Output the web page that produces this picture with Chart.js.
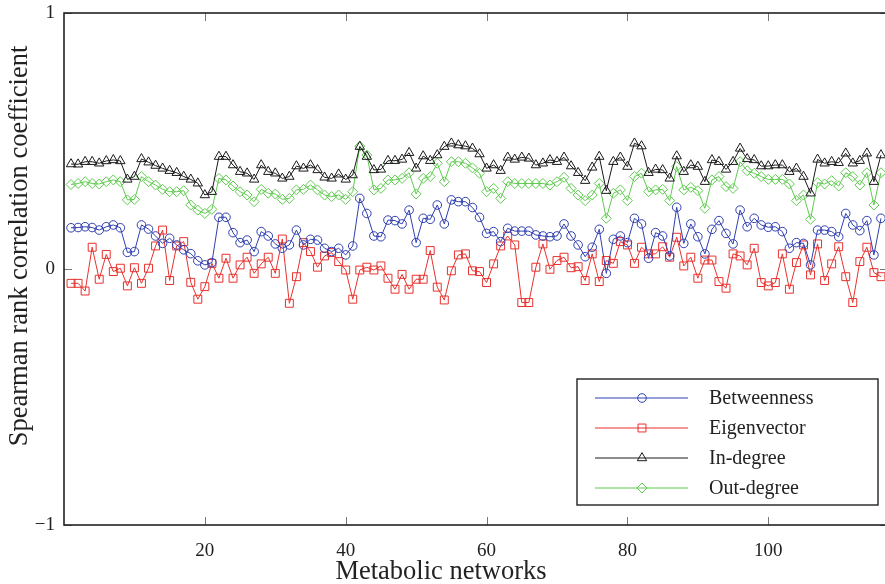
<!DOCTYPE html>
<html>
<head>
<meta charset="utf-8">
<script src="https://cdn.jsdelivr.net/npm/chart.js@4/dist/chart.umd.min.js"></script>
<style>
  html, body { margin: 0; padding: 0; background: #fff; overflow: hidden; }
  #wrap { width: 890px; height: 584px; }
  canvas { display: block; }
</style>
</head>
<body>
<div id="wrap"><canvas id="corrChart" width="890" height="584"></canvas></div>
<script>
// Spearman rank correlation per metabolic network (networks 1..116)
const betweenness = [
  0.161, 0.162, 0.165, 0.162, 0.152, 0.165, 0.172, 0.161, 0.065, 0.068,
  0.172, 0.156, 0.129, 0.100, 0.120, 0.094, 0.075, 0.060, 0.032, 0.016,
  0.025, 0.202, 0.202, 0.142, 0.103, 0.113, 0.068, 0.146, 0.129, 0.098,
  0.081, 0.094, 0.152, 0.094, 0.116, 0.113, 0.081, 0.068, 0.081, 0.055,
  0.090, 0.276, 0.217, 0.129, 0.126, 0.191, 0.189, 0.176, 0.230, 0.103,
  0.198, 0.194, 0.250, 0.176, 0.270, 0.263, 0.263, 0.240, 0.202, 0.139,
  0.146, 0.107, 0.159, 0.148, 0.148, 0.148, 0.133, 0.129, 0.126, 0.129,
  0.176, 0.129, 0.094, 0.048, 0.085, 0.155, -0.017, 0.116, 0.129, 0.103,
  0.198, 0.176, 0.042, 0.142, 0.129, 0.051, 0.241, 0.100, 0.176, 0.126,
  0.059, 0.155, 0.189, 0.139, 0.098, 0.230, 0.165, 0.198, 0.172, 0.163,
  0.165, 0.146, 0.081, 0.103, 0.100, 0.016, 0.152, 0.152, 0.146, 0.126,
  0.217, 0.172, 0.150, 0.189, 0.055, 0.198
];
const eigenvector = [
  -0.056, -0.056, -0.086, 0.085, -0.040, 0.057, -0.010, 0.003, -0.066, 0.005,
  -0.056, 0.003, 0.090, 0.152, -0.045, 0.090, 0.107, -0.052, -0.118, -0.069,
  0.022, -0.036, 0.042, -0.036, 0.016, 0.046, -0.017, 0.020, 0.046, -0.017,
  0.117, -0.134, -0.030, 0.103, 0.068, 0.007, 0.051, 0.064, 0.029, -0.004,
  -0.118, -0.004, 0.007, -0.004, 0.012, -0.036, -0.079, -0.021, -0.079, -0.040,
  -0.040, 0.072, -0.071, -0.121, -0.007, 0.055, 0.059, -0.007, -0.010, -0.053,
  0.020, 0.090, 0.129, 0.094, -0.131, -0.131, 0.007, 0.098, -0.001, 0.033,
  0.046, 0.005, 0.009, -0.045, 0.059, -0.049, 0.033, 0.022, 0.107, 0.094,
  0.022, 0.085, 0.059, 0.059, 0.087, 0.046, 0.124, 0.012, 0.046, -0.036,
  0.035, 0.035, -0.049, -0.075, 0.059, 0.051, 0.016, 0.081, -0.053, -0.066,
  -0.053, 0.059, -0.079, 0.025, 0.094, -0.023, 0.098, -0.045, 0.020, 0.087,
  -0.030, -0.131, 0.029, 0.085, -0.014, -0.030
];
const inDegree = [
  0.410, 0.409, 0.419, 0.419, 0.413, 0.422, 0.426, 0.422, 0.350, 0.361,
  0.430, 0.417, 0.404, 0.393, 0.384, 0.376, 0.361, 0.350, 0.335, 0.289,
  0.302, 0.439, 0.439, 0.406, 0.380, 0.374, 0.350, 0.406, 0.380, 0.374,
  0.354, 0.361, 0.402, 0.393, 0.406, 0.387, 0.358, 0.354, 0.370, 0.350,
  0.367, 0.478, 0.439, 0.387, 0.389, 0.423, 0.423, 0.428, 0.454, 0.393,
  0.441, 0.423, 0.445, 0.478, 0.491, 0.484, 0.480, 0.471, 0.449, 0.393,
  0.406, 0.384, 0.436, 0.428, 0.436, 0.432, 0.406, 0.413, 0.426, 0.419,
  0.436, 0.402, 0.376, 0.345, 0.397, 0.439, 0.306, 0.419, 0.436, 0.400,
  0.491, 0.480, 0.376, 0.389, 0.387, 0.354, 0.441, 0.380, 0.406, 0.400,
  0.341, 0.426, 0.419, 0.389, 0.419, 0.471, 0.430, 0.426, 0.402, 0.402,
  0.406, 0.406, 0.380, 0.393, 0.361, 0.296, 0.428, 0.413, 0.419, 0.415,
  0.452, 0.413, 0.423, 0.452, 0.341, 0.445
];
const outDegree = [
  0.330, 0.334, 0.341, 0.334, 0.332, 0.341, 0.348, 0.341, 0.270, 0.272,
  0.361, 0.341, 0.328, 0.311, 0.302, 0.302, 0.306, 0.250, 0.230, 0.217,
  0.233, 0.354, 0.348, 0.324, 0.302, 0.289, 0.263, 0.311, 0.296, 0.293,
  0.272, 0.276, 0.309, 0.311, 0.328, 0.309, 0.289, 0.283, 0.289, 0.272,
  0.302, 0.480, 0.445, 0.309, 0.315, 0.348, 0.348, 0.354, 0.376, 0.293,
  0.354, 0.361, 0.413, 0.341, 0.419, 0.419, 0.413, 0.395, 0.374, 0.302,
  0.315, 0.276, 0.341, 0.334, 0.334, 0.334, 0.334, 0.334, 0.328, 0.341,
  0.358, 0.315, 0.289, 0.267, 0.289, 0.334, 0.198, 0.296, 0.309, 0.267,
  0.361, 0.374, 0.302, 0.309, 0.311, 0.267, 0.400, 0.309, 0.319, 0.306,
  0.237, 0.348, 0.361, 0.322, 0.315, 0.419, 0.384, 0.374, 0.361, 0.350,
  0.350, 0.350, 0.332, 0.267, 0.289, 0.194, 0.337, 0.332, 0.345, 0.324,
  0.376, 0.361, 0.328, 0.376, 0.250, 0.376
];
const xTicks = [20, 40, 60, 80, 100];
const yTicks = [-1, 0, 1];

const networks = betweenness.map((_, i) => i + 1);
const serif = "'Liberation Serif', 'Times New Roman', serif";

function series(label, values, color, shape, radius) {
  return {
    label: label,
    data: values.map((v, i) => ({ x: networks[i], y: v })),
    borderColor: color,
    borderWidth: 1,
    pointStyle: shape,
    pointRadius: radius,
    pointBorderColor: color,
    pointBackgroundColor: 'rgba(0,0,0,0)',
    pointBorderWidth: 1,
    tension: 0,
    fill: false
  };
}

// same geometry chart.js uses for its point styles
function drawMarker(ctx, shape, x, y, r) {
  ctx.beginPath();
  if (shape === 'circle') {
    ctx.arc(x, y, r, 0, Math.PI * 2);
  } else if (shape === 'rect') {
    const s = Math.SQRT1_2 * r;
    ctx.rect(x - s, y - s, 2 * s, 2 * s);
  } else if (shape === 'triangle') {
    for (let k = 0; k < 3; k++) {
      const a = k * 2 * Math.PI / 3;
      const px = x + Math.sin(a) * r, py = y - Math.cos(a) * r;
      k ? ctx.lineTo(px, py) : ctx.moveTo(px, py);
    }
    ctx.closePath();
  } else if (shape === 'rectRot') {
    ctx.moveTo(x - r, y); ctx.lineTo(x, y - r); ctx.lineTo(x + r, y); ctx.lineTo(x, y + r);
    ctx.closePath();
  }
  ctx.stroke();
}

const decorations = {
  id: 'decorations',
  afterDraw(chart) {
    const { ctx, chartArea: a, scales } = chart;
    ctx.save();

    // inward tick marks on all four sides
    ctx.strokeStyle = '#777';
    ctx.lineWidth = 1;
    ctx.beginPath();
    xTicks.forEach(v => {
      const px = Math.round(scales.x.getPixelForValue(v)) + 0.5;
      ctx.moveTo(px, a.bottom); ctx.lineTo(px, a.bottom - 8);
      ctx.moveTo(px, a.top); ctx.lineTo(px, a.top + 8);
    });
    yTicks.forEach(v => {
      const py = Math.round(scales.y.getPixelForValue(v)) + 0.5;
      ctx.moveTo(a.left, py); ctx.lineTo(a.left + 8, py);
      ctx.moveTo(a.right, py); ctx.lineTo(a.right - 8, py);
    });
    ctx.stroke();

    // axis box
    ctx.strokeStyle = '#222';
    ctx.lineWidth = 1.6;
    ctx.strokeRect(a.left, a.top, a.right - a.left, a.bottom - a.top);

    // axis titles
    ctx.fillStyle = '#222';
    ctx.font = '26.5px ' + serif;
    ctx.textAlign = 'center';
    ctx.textBaseline = 'middle';
    ctx.fillText('Metabolic networks', 441, 572);
    ctx.save();
    ctx.translate(20, 246);
    ctx.rotate(-Math.PI / 2);
    ctx.fillText('Spearman rank correlation coefficient', 0, 0);
    ctx.restore();

    // legend box
    const lw = 301, lh = 126;
    const lx = a.right - 10 - lw, ly = a.bottom - 20 - lh;
    ctx.fillStyle = '#fff';
    ctx.fillRect(lx, ly, lw, lh);
    ctx.strokeStyle = '#222';
    ctx.lineWidth = 1.4;
    ctx.strokeRect(lx, ly, lw, lh);
    ctx.font = '20px ' + serif;
    ctx.textAlign = 'left';
    chart.data.datasets.forEach((ds, i) => {
      const ry = ly + 19 + i * 30;
      ctx.strokeStyle = ds.borderColor;
      ctx.lineWidth = 1;
      ctx.beginPath();
      ctx.moveTo(lx + 18, ry); ctx.lineTo(lx + 111, ry);
      ctx.stroke();
      drawMarker(ctx, ds.pointStyle, lx + 65, ry, ds.pointRadius);
      ctx.fillStyle = '#222';
      ctx.fillText(ds.label, lx + 132, ry + 1);
    });
    ctx.restore();
  }
};

new Chart(document.getElementById('corrChart').getContext('2d'), {
  type: 'line',
  data: {
    datasets: [
      series('Betweenness', betweenness, '#2f3fb0', 'circle', 4.3),
      series('Eigenvector', eigenvector, '#e8312d', 'rect', 5.6),
      series('In-degree', inDegree, '#1a1a1a', 'triangle', 5.4),
      series('Out-degree', outDegree, '#5ecb4e', 'rectRot', 5)
    ]
  },
  options: {
    responsive: false,
    animation: false,
    layout: { autoPadding: false, padding: { top: 13, right: 2, left: 0, bottom: 0 } },
    plugins: { legend: { display: false }, tooltip: { enabled: false } },
    scales: {
      x: {
        type: 'linear',
        min: 0,
        max: 117,
        afterFit: s => { s.height = 59; s.paddingLeft = 0; s.paddingRight = 0; },
        afterBuildTicks: s => { s.ticks = xTicks.map(v => ({ value: v })); },
        grid: { display: false, drawTicks: false },
        border: { display: false },
        ticks: { color: '#222', font: { family: serif, size: 19 }, padding: 15, maxRotation: 0 }
      },
      y: {
        type: 'linear',
        min: -1,
        max: 1,
        afterFit: s => { s.width = 64; s.paddingTop = 0; s.paddingBottom = 0; },
        afterBuildTicks: s => { s.ticks = yTicks.map(v => ({ value: v })); },
        grid: { display: false, drawTicks: false },
        border: { display: false },
        ticks: {
          color: '#222',
          font: { family: serif, size: 19 },
          padding: 9,
          callback: v => (v < 0 ? '\u2212' + Math.abs(v) : String(v))
        }
      }
    }
  },
  plugins: [decorations]
});
</script>
</body>
</html>
